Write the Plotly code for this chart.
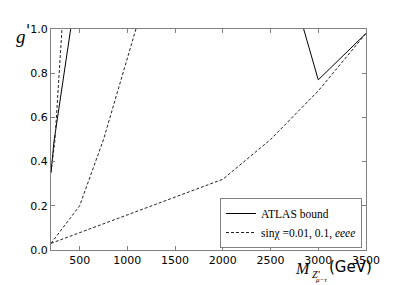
import plotly.graph_objects as go

# ---- data ----
atlas_x = [200, 231, 406, None, 2847, 3000, 3500]
atlas_y = [0.35, 0.49, 1.0, None, 1.0, 0.77, 0.98]

s1_x = [200, 242, 315]
s1_y = [0.35, 0.50, 1.0]
s2_x = [200, 500, 750, 1090]
s2_y = [0.03, 0.20, 0.50, 1.0]
s3_x = [200, 2000, 2500, 3000, 3500]
s3_y = [0.03, 0.32, 0.50, 0.72, 0.98]

x_ticks = [500, 1000, 1500, 2000, 2500, 3000, 3500]
y_ticks = [0.0, 0.2, 0.4, 0.6, 0.8, 1.0]

# page body adds an 8px offset; compensate so the plot lands at 51..366 x 29..250
OFF = 8
W, H = 407 - OFF, 285 - OFF
PL, PT, PW, PH = 51, 29, 315, 221
L, T = PL - OFF, PT - OFF
R = W - L - PW
B = H - T - PH


def px(x, y):
    """screen pixel -> paper coordinates"""
    return (x - PL) / PW, (PT + PH - y) / PH


dash_x = s1_x + [None] + s2_x + [None] + s3_x
dash_y = s1_y + [None] + s2_y + [None] + s3_y

fig = go.Figure()
fig.add_trace(go.Scatter(x=atlas_x, y=atlas_y, mode="lines", name="ATLAS bound",
                         line=dict(color="black", width=1), connectgaps=False))
fig.add_trace(go.Scatter(x=dash_x, y=dash_y, mode="lines",
                         name="sinχ =0.01, 0.1, <i>eeee</i>",
                         line=dict(color="#222222", width=1, dash="3px,2px"),
                         connectgaps=False))

axis_common = dict(showline=True, linecolor="#808080", linewidth=1, mirror="ticks",
                   ticks="inside", ticklen=4, tickcolor="#808080", showgrid=False,
                   zeroline=False, automargin=False,
                   tickfont=dict(family="DejaVu Sans", size=11, color="black"))

fig.update_xaxes(range=[200, 3500], tickvals=x_ticks,
                 ticktext=[str(v) for v in x_ticks], **axis_common)
fig.update_yaxes(range=[0, 1], tickvals=y_ticks,
                 ticktext=[f"{v:.1f}" for v in y_ticks], **axis_common)

lx, ly = px(362, 248)
fig.update_layout(
    width=W, height=H, margin=dict(l=L, r=R, t=T, b=B, pad=0),
    plot_bgcolor="white", paper_bgcolor="white",
    showlegend=True,
    legend=dict(x=lx, y=ly, xanchor="right", yanchor="bottom",
                bordercolor="#808080", borderwidth=1, bgcolor="white",
                font=dict(family="Liberation Serif", size=11.5, color="black"),
                tracegroupgap=0, itemwidth=30),
)

ann = []
gx, gy = px(21, 37)
ann.append(dict(x=gx, y=gy, text="<i>g</i>", font=dict(family="Liberation Serif", size=19, color="black")))
qx, qy = px(28, 31)
ann.append(dict(x=qx, y=qy, text="<i>'</i>", font=dict(family="DejaVu Sans", size=15, color="black")))
mx, my = px(303, 268)
ann.append(dict(x=mx, y=my, text="<i>M</i>", font=dict(family="Liberation Serif", size=16, color="black")))
zx, zy = px(316, 274)
ann.append(dict(x=zx, y=zy, text="<i>Z'</i>", font=dict(family="Liberation Serif", size=10, color="black")))
sx, sy = px(321, 280)
ann.append(dict(x=sx, y=sy, text="<i>μ−τ</i>", font=dict(family="Liberation Serif", size=7, color="black")))
vx, vy = px(350, 267)
ann.append(dict(x=vx, y=vy, text="(GeV)", font=dict(family="DejaVu Sans", size=15, color="black")))
for a in ann:
    a.update(xref="paper", yref="paper", showarrow=False, xanchor="center", yanchor="middle")
fig.update_layout(annotations=ann)

fig.write_html("out.html")
